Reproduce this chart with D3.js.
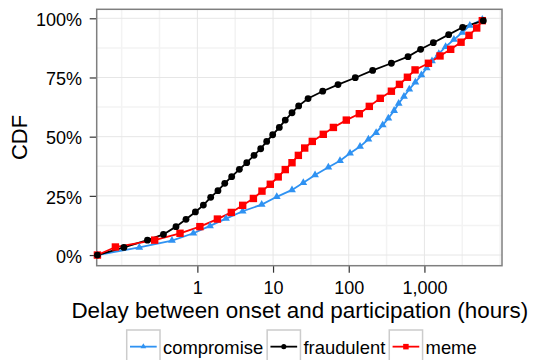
<!DOCTYPE html>
<html>
<head>
<meta charset="utf-8">
<script src="https://cdn.jsdelivr.net/npm/d3@7"></script>
<style>
  body { margin: 0; background: #fff; }
  text { font-family: "Liberation Sans", Arial, Helvetica, sans-serif; fill: #000; }
</style>
</head>
<body>
<script>
// series names, in legend order
const seriesNames = ["compromise", "fraudulent", "meme"];

// delay (hours) and CDF for each series
const compromiseHours = [0.0478, 0.171, 0.462, 0.885, 1.47, 2.39, 3.97, 7.08, 11.2, 17.8, 25.1, 35.9, 53.8, 76.7, 104, 141, 182, 230, 281, 334, 398, 457, 537, 631, 759, 912, 1072, 1259, 1549, 1905, 2455, 3162, 3981, 5821];
const compromiseCdf = [0, 0.032, 0.061, 0.092, 0.123, 0.154, 0.185, 0.213, 0.246, 0.275, 0.305, 0.338, 0.371, 0.398, 0.430, 0.458, 0.489, 0.517, 0.549, 0.578, 0.61, 0.64, 0.67, 0.70, 0.73, 0.76, 0.79, 0.82, 0.85, 0.88, 0.91, 0.94, 0.97, 0.995];

const fraudulentHours = [0.0478, 0.107, 0.219, 0.356, 0.522, 0.708, 0.942, 1.20, 1.50, 1.87, 2.30, 2.84, 3.59, 4.49, 5.61, 6.87, 8.24, 9.89, 12.1, 14.5, 17.8, 21.8, 29.0, 45.3, 72.1, 122, 207, 366, 607, 891, 1312, 2089, 3199, 6000];
const fraudulentCdf = [0, 0.032, 0.063, 0.087, 0.120, 0.151, 0.182, 0.211, 0.244, 0.272, 0.303, 0.331, 0.362, 0.390, 0.421, 0.449, 0.480, 0.508, 0.539, 0.570, 0.601, 0.630, 0.661, 0.692, 0.720, 0.749, 0.780, 0.810, 0.838, 0.869, 0.897, 0.931, 0.962, 0.990];

const memeHours = [0.0478, 0.0826, 0.273, 0.590, 1.08, 1.84, 2.81, 3.97, 5.50, 7.14, 9.20, 11.7, 14.5, 17.8, 21.6, 26.2, 33.0, 46.1, 62.7, 92.9, 138, 187, 261, 366, 468, 596, 752, 1130, 1607, 2223, 3048, 3882, 4909, 5821];
const memeCdf = [0, 0.034, 0.063, 0.092, 0.120, 0.152, 0.180, 0.210, 0.239, 0.270, 0.299, 0.330, 0.361, 0.390, 0.421, 0.452, 0.480, 0.510, 0.539, 0.570, 0.597, 0.628, 0.662, 0.692, 0.721, 0.751, 0.782, 0.810, 0.841, 0.869, 0.899, 0.928, 0.959, 0.990];

// axis ticks
const xTicks = [1, 10, 100, 1000];
const xMinor = [0.1, 0.316, 3.16, 31.6, 316, 3162, 10000];
const yTicks = [0, 0.25, 0.5, 0.75, 1];
const yMinor = [0.125, 0.375, 0.625, 0.875];

const width = 535, height = 360;
const margin = {top: 9.3, right: 33, bottom: 94.3, left: 96.7};
const font = "Liberation Sans, Arial, Helvetica, sans-serif";

const svg = d3.select("body").append("svg")
    .attr("width", width)
    .attr("height", height);

const x = d3.scaleLog()
    .domain([Math.pow(10, -1.33), Math.pow(10, 4.025)])
    .range([margin.left, width - margin.right]);

const y = d3.scaleLinear()
    .domain([-0.045, 1.038])
    .range([height - margin.bottom, margin.top]);

const colors = {compromise: "#2f92f2", fraudulent: "#000000", meme: "#ff0000"};

const series = [
  {name: "compromise", hours: compromiseHours, cdf: compromiseCdf},
  {name: "fraudulent", hours: fraudulentHours, cdf: fraudulentCdf},
  {name: "meme", hours: memeHours, cdf: memeCdf}
].map(s => ({name: s.name, pts: s.hours.map((h, i) => ({h: h, v: s.cdf[i]}))}));

// grid
const grid = svg.append("g");
grid.selectAll(".xminor").data(xMinor).join("line")
    .attr("x1", d => x(d)).attr("x2", d => x(d))
    .attr("y1", margin.top).attr("y2", height - margin.bottom)
    .attr("stroke", "#f3f3f3").attr("stroke-width", 1.5);
grid.selectAll(".yminor").data(yMinor).join("line")
    .attr("y1", d => y(d)).attr("y2", d => y(d))
    .attr("x1", margin.left).attr("x2", width - margin.right)
    .attr("stroke", "#f3f3f3").attr("stroke-width", 1.5);
grid.selectAll(".xmajor").data(xTicks).join("line")
    .attr("x1", d => x(d)).attr("x2", d => x(d))
    .attr("y1", margin.top).attr("y2", height - margin.bottom)
    .attr("stroke", "#e6e6e6").attr("stroke-width", 1);
grid.selectAll(".ymajor").data(yTicks).join("line")
    .attr("y1", d => y(d)).attr("y2", d => y(d))
    .attr("x1", margin.left).attr("x2", width - margin.right)
    .attr("stroke", "#e6e6e6").attr("stroke-width", 1);

// axes
const xAxis = svg.append("g")
    .attr("transform", "translate(0," + (height - margin.bottom) + ")")
    .call(d3.axisBottom(x).tickValues(xTicks).tickFormat(d3.format(",")).tickSize(7));
xAxis.select(".domain").remove();
xAxis.selectAll("line").attr("stroke", "#333").attr("stroke-width", 1.2);
xAxis.selectAll("text")
    .attr("y", 15.2).attr("dy", "0.71em")
    .style("font-size", "18px").style("font-family", font).attr("fill", "#000");

const yAxis = svg.append("g")
    .attr("transform", "translate(" + margin.left + ",0)")
    .call(d3.axisLeft(y).tickValues(yTicks).tickFormat(d3.format(".0%")).tickSize(7));
yAxis.select(".domain").remove();
yAxis.selectAll("line").attr("stroke", "#333").attr("stroke-width", 1.2);
yAxis.selectAll("text")
    .attr("x", -14.7).attr("dy", "0.4em")
    .style("font-size", "18px").style("font-family", font).attr("fill", "#000");

// panel border
svg.append("rect")
    .attr("x", margin.left).attr("y", margin.top)
    .attr("width", width - margin.left - margin.right)
    .attr("height", height - margin.top - margin.bottom)
    .attr("fill", "none").attr("stroke", "#7f7f7f").attr("stroke-width", 1.5);

// titles
svg.append("text")
    .attr("x", (margin.left + width - margin.right) / 2 + 0.5)
    .attr("y", 317.5)
    .attr("text-anchor", "middle")
    .style("font-size", "22.4px")
    .text("Delay between onset and participation (hours)");

svg.append("text")
    .attr("transform", "translate(27.3," + ((margin.top + height - margin.bottom) / 2) + ") rotate(-90)")
    .attr("text-anchor", "middle")
    .style("font-size", "22px")
    .text("CDF");

// lines
const line = d3.line().x(d => x(d.h)).y(d => y(d.v));
const plot = svg.append("g");
plot.selectAll(".series").data(series).join("path")
    .attr("d", d => line(d.pts))
    .attr("fill", "none")
    .attr("stroke", d => colors[d.name])
    .attr("stroke-width", 1.8);

// point markers
function marker(g, name, size) {
  if (name === "fraudulent") {
    g.append("circle").attr("r", size * 0.46).attr("fill", colors[name]);
  } else if (name === "meme") {
    g.append("rect").attr("x", -size / 2).attr("y", -size / 2)
      .attr("width", size).attr("height", size).attr("fill", colors[name]);
  } else {
    const s = size * 1.05;
    g.append("path")
      .attr("d", "M0," + (-s * 0.58) + "L" + (s / 2) + "," + (s * 0.29) + "L" + (-s / 2) + "," + (s * 0.29) + "Z")
      .attr("fill", colors[name]);
  }
}

["compromise", "meme", "fraudulent"].forEach(name => {
  const s = series.find(d => d.name === name);
  plot.append("g").selectAll("g").data(s.pts).join("g")
      .attr("transform", d => "translate(" + x(d.h) + "," + y(d.v) + ")")
      .each(function() { marker(d3.select(this), name, 7.4); });
});

// legend
const legend = svg.append("g");
let lx = 126.7;
const keyW = 33.3, keyTop = 330;
seriesNames.forEach(name => {
  const k = legend.append("g");
  k.append("rect")
      .attr("x", lx).attr("y", keyTop)
      .attr("width", keyW).attr("height", keyW)
      .attr("fill", "#fff").attr("stroke", "#cccccc").attr("stroke-width", 1.5);
  k.append("line")
      .attr("x1", lx + 3.3).attr("x2", lx + keyW - 3.3)
      .attr("y1", keyTop + keyW / 2).attr("y2", keyTop + keyW / 2)
      .attr("stroke", colors[name]).attr("stroke-width", 1.8);
  const m = k.append("g").attr("transform", "translate(" + (lx + keyW / 2) + "," + (keyTop + keyW / 2) + ")");
  marker(m, name, 5.5);
  const t = k.append("text")
      .attr("x", lx + keyW + 3)
      .attr("y", 353.5)
      .style("font-size", "18.4px")
      .text(name);
  lx = lx + keyW + 3 + t.node().getComputedTextLength() + 4;
});
</script>
</body>
</html>
